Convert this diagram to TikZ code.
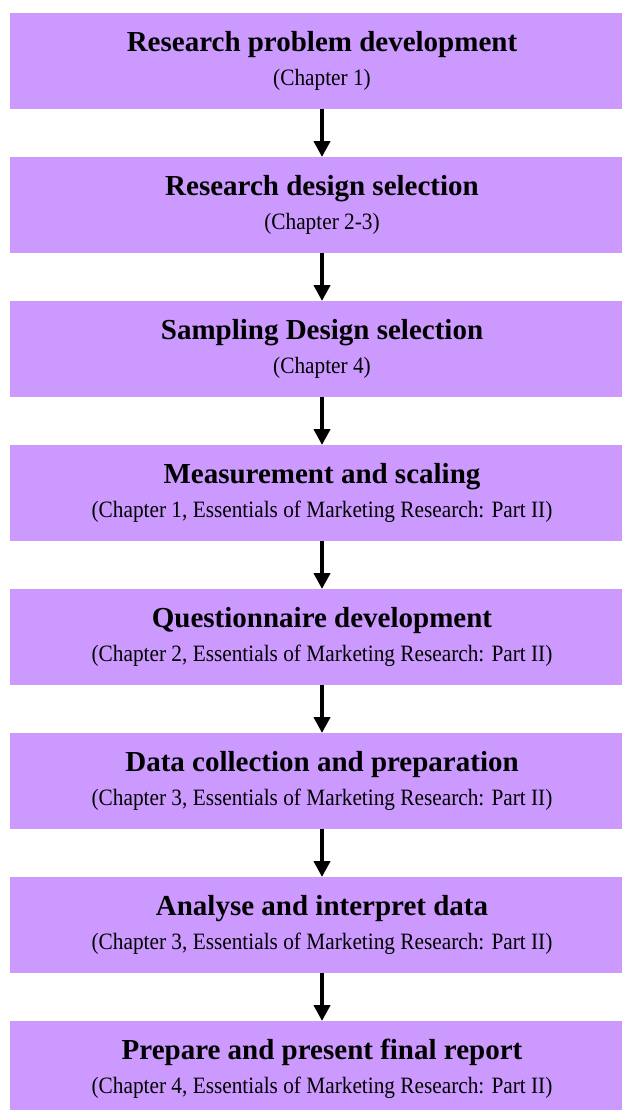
\documentclass[tikz,border=0pt]{standalone}
\usepackage{fontspec}
\setmainfont{Liberation Serif}
\usetikzlibrary{arrows.meta}
\definecolor{boxfill}{RGB}{204,153,255}
\newcommand\tallsub[1]{\scalebox{1}[1.1]{#1}}
\begin{document}
\begin{tikzpicture}[x=1bp,y=-1bp,
  stagebox/.style={fill=boxfill, draw=none, minimum width=624bp, minimum height=96bp, inner sep=0pt, outer sep=0pt, anchor=north west},
  titletext/.style={font=\fontsize{29bp}{34bp}\selectfont\bfseries, anchor=base, inner sep=0pt},
  subtext/.style={font=\fontsize{21.3bp}{25bp}\selectfont, anchor=base, inner sep=0pt},
  flow/.style={line width=4.5bp, -{Triangle[width=16bp,length=16bp]}}]
\useasboundingbox (0,0) rectangle (622,1110);
\clip (0,0) rectangle (622,1110);
\node[stagebox] (b1) at (10,13) {};
\node[stagebox] (b2) at (10,157) {};
\node[stagebox] (b3) at (10,301) {};
\node[stagebox] (b4) at (10,445) {};
\node[stagebox] (b5) at (10,589) {};
\node[stagebox] (b6) at (10,733) {};
\node[stagebox] (b7) at (10,877) {};
\node[stagebox] (b8) at (10,1021) {};
\node[titletext] (t1) at (322,51) {Research problem development};
\node[subtext] (s1) at (322,85) {\tallsub{(Chapter 1)}};
\node[titletext] (t2) at (322,195) {Research design selection};
\node[subtext] (s2) at (322,229) {\tallsub{(Chapter 2-3)}};
\node[titletext] (t3) at (322,339) {Sampling Design selection};
\node[subtext] (s3) at (322,373) {\tallsub{(Chapter 4)}};
\node[titletext] (t4) at (322,483) {Measurement and scaling};
\node[subtext] (s4) at (322,517) {\tallsub{(Chapter 1, Essentials of Marketing Research: Part II)}};
\node[titletext] (t5) at (322,627) {Questionnaire development};
\node[subtext] (s5) at (322,661) {\tallsub{(Chapter 2, Essentials of Marketing Research: Part II)}};
\node[titletext] (t6) at (322,771) {Data collection and preparation};
\node[subtext] (s6) at (322,805) {\tallsub{(Chapter 3, Essentials of Marketing Research: Part II)}};
\node[titletext] (t7) at (322,915) {Analyse and interpret data};
\node[subtext] (s7) at (322,949) {\tallsub{(Chapter 3, Essentials of Marketing Research: Part II)}};
\node[titletext] (t8) at (322,1059) {Prepare and present final report};
\node[subtext] (s8) at (322,1093) {\tallsub{(Chapter 4, Essentials of Marketing Research: Part II)}};
\draw[flow] (b1.south) -- (b2.north);
\draw[flow] (b2.south) -- (b3.north);
\draw[flow] (b3.south) -- (b4.north);
\draw[flow] (b4.south) -- (b5.north);
\draw[flow] (b5.south) -- (b6.north);
\draw[flow] (b6.south) -- (b7.north);
\draw[flow] (b7.south) -- (b8.north);
\end{tikzpicture}
\end{document}
